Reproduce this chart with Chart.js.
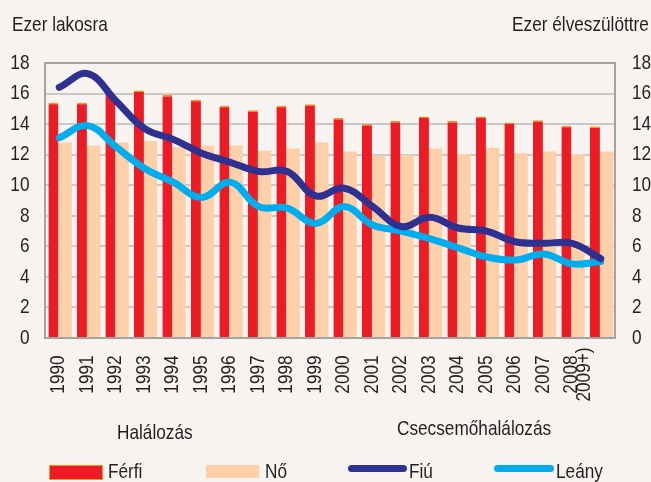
<!DOCTYPE html>
<html>
<head>
<meta charset="utf-8">
<script src="https://cdn.jsdelivr.net/npm/chart.js@4/dist/chart.umd.min.js"></script>
<style>
    body { margin: 0; background: #f6f3f0; }
    #wrap { position: relative; width: 651px; height: 482px; font-family: "Liberation Sans", Arial, sans-serif; color: #231f20; }
    .t { position: absolute; font-size: 21px; line-height: 24px; white-space: nowrap; transform: scaleX(0.82); transform-origin: left top; }
    .t.r { transform-origin: right top; }
    .box { position: absolute; height: 13px; }
    .ln { position: absolute; height: 7px; border-radius: 4px; }
</style>
</head>
<body>
<div id="wrap">
    <canvas id="chart" width="651" height="482"></canvas>
    <div class="t" style="left:12px;top:12px;">Ezer lakosra</div>
    <div class="t r" style="right:2px;top:12px;">Ezer élveszülöttre</div>
    <div class="t" style="left:117px;top:420px;">Halálozás</div>
    <div class="t" style="left:397px;top:416px;">Csecsemőhalálozás</div>

    <div class="box" style="left:49px;top:465px;width:52px;background:#ed1c24;border:1px solid #f7941d;"></div>
    <div class="t" style="left:108px;top:459px;">Férfi</div>
    <div class="box" style="left:206px;top:465px;width:53px;background:#fdd0a9;"></div>
    <div class="t" style="left:265px;top:459px;">Nő</div>
    <div class="ln" style="left:348px;top:465px;width:59px;background:#2e3192;"></div>
    <div class="t" style="left:409px;top:459px;">Fiú</div>
    <div class="ln" style="left:494px;top:465px;width:60px;background:#00aeef;"></div>
    <div class="t" style="left:556px;top:459px;">Leány</div>
</div>
<script>
// Data
const years = ['1990', '1991', '1992', '1993', '1994', '1995', '1996', '1997', '1998', '1999',
    '2000', '2001', '2002', '2003', '2004', '2005', '2006', '2007', ['2008', '2009+)'], ''];
const ferfi = [15.4, 15.4, 16.0, 16.2, 15.9, 15.6, 15.2, 14.9, 15.2, 15.3,
    14.4, 14.0, 14.2, 14.5, 14.2, 14.5, 14.1, 14.25, 13.9, 13.85];
const no = [12.8, 12.6, 12.8, 12.9, 12.5, 12.6, 12.6, 12.25, 12.4, 12.8,
    12.2, 11.95, 12.0, 12.4, 12.05, 12.45, 12.1, 12.2, 12.05, 12.2];
const fiu = [16.4, 17.3, 15.5, 13.7, 13.0, 12.1, 11.5, 10.9, 10.9, 9.3,
    9.8, 8.6, 7.3, 7.9, 7.2, 7.0, 6.3, 6.2, 6.2, 5.2];
const leany = [13.1, 13.9, 12.5, 11.1, 10.2, 9.2, 10.2, 8.6, 8.5, 7.5,
    8.6, 7.4, 7.0, 6.5, 5.9, 5.3, 5.1, 5.5, 4.85, 5.0];

const axisGray = '#a3a3a3';
const textColor = '#231f20';
const narrow = 0.82; // Liberation Sans squeezed to look like Arial Narrow

// tick labels drawn by hand so they can be condensed like the original
const narrowTicks = {
    id: 'narrowTicks',
    afterDraw(chart) {
        const ctx = chart.ctx;
        const { x, y, y1 } = chart.scales;
        ctx.save();
        ctx.font = '21px "Liberation Sans", Arial, sans-serif';
        ctx.fillStyle = textColor;
        ctx.textBaseline = 'middle';

        y.ticks.forEach(t => {
            const py = y.getPixelForValue(t.value);
            ctx.save();
            ctx.translate(29.5, py);
            ctx.scale(narrow, 1);
            ctx.textAlign = 'right';
            ctx.fillText(String(t.value), 0, 0);
            ctx.restore();
        });
        y1.ticks.forEach(t => {
            const py = y1.getPixelForValue(t.value);
            ctx.save();
            ctx.translate(632, py);
            ctx.scale(narrow, 1);
            ctx.textAlign = 'left';
            ctx.fillText(String(t.value), 0, 0);
            ctx.restore();
        });

        years.forEach((lab, i) => {
            const lines = Array.isArray(lab) ? lab : [lab];
            const px = x.getPixelForValue(i);
            lines.forEach((line, k) => {
                ctx.save();
                ctx.translate(px - 1 + k * 13, 374.5);
                ctx.rotate(-Math.PI / 2);
                ctx.scale(narrow, 1);
                ctx.textAlign = 'center';
                ctx.fillText(line, 0, 0);
                ctx.restore();
            });
        });
        ctx.restore();
    }
};

const chart = new Chart(document.getElementById('chart'), {
    type: 'bar',
    data: {
        labels: years,
        datasets: [{
            label: 'Fiú',
            type: 'line',
            data: fiu,
            borderColor: '#2e3192',
            borderWidth: 7,
            borderCapStyle: 'round',
            pointRadius: 0,
            tension: 0.4,
            order: 1,
            yAxisID: 'y1'
        }, {
            label: 'Leány',
            type: 'line',
            data: leany,
            borderColor: '#00aeef',
            borderWidth: 7,
            borderCapStyle: 'round',
            pointRadius: 0,
            tension: 0.4,
            order: 1,
            yAxisID: 'y1'
        }, {
            label: 'Férfi',
            data: ferfi,
            backgroundColor: '#ed1c24',
            borderColor: '#f7941d',
            borderWidth: { top: 1.5, left: 0, right: 0, bottom: 0 },
            borderSkipped: false,
            categoryPercentage: 0.82,
            barPercentage: 0.86,
            order: 2
        }, {
            label: 'Nő',
            data: no,
            backgroundColor: '#fdd0a9',
            categoryPercentage: 0.82,
            barPercentage: 1.14,
            order: 2
        }]
    },
    options: {
        responsive: false,
        animation: false,
        layout: { padding: { top: 63, bottom: 84, left: 0, right: 0 } },
        plugins: { legend: { display: false }, tooltip: { enabled: false } },
        scales: {
            x: {
                grid: { display: false },
                border: { color: axisGray, width: 2 },
                ticks: { display: false },
                afterFit: (scale) => { scale.height = 60; }
            },
            y: {
                position: 'left',
                min: 0,
                max: 18,
                grid: {
                    color: (ctx) => ctx.tick && ctx.tick.value === 18 ? axisGray : '#c9c9c9',
                    lineWidth: 2,
                    drawTicks: false
                },
                border: { color: axisGray, width: 2 },
                ticks: { display: false, stepSize: 2 },
                afterFit: (scale) => { scale.width = 45; }
            },
            y1: {
                position: 'right',
                min: 0,
                max: 18,
                grid: { display: false },
                border: { color: axisGray, width: 2 },
                ticks: { display: false, stepSize: 2 },
                afterFit: (scale) => { scale.width = 36; }
            }
        }
    },
    plugins: [narrowTicks]
});
</script>
</body>
</html>
